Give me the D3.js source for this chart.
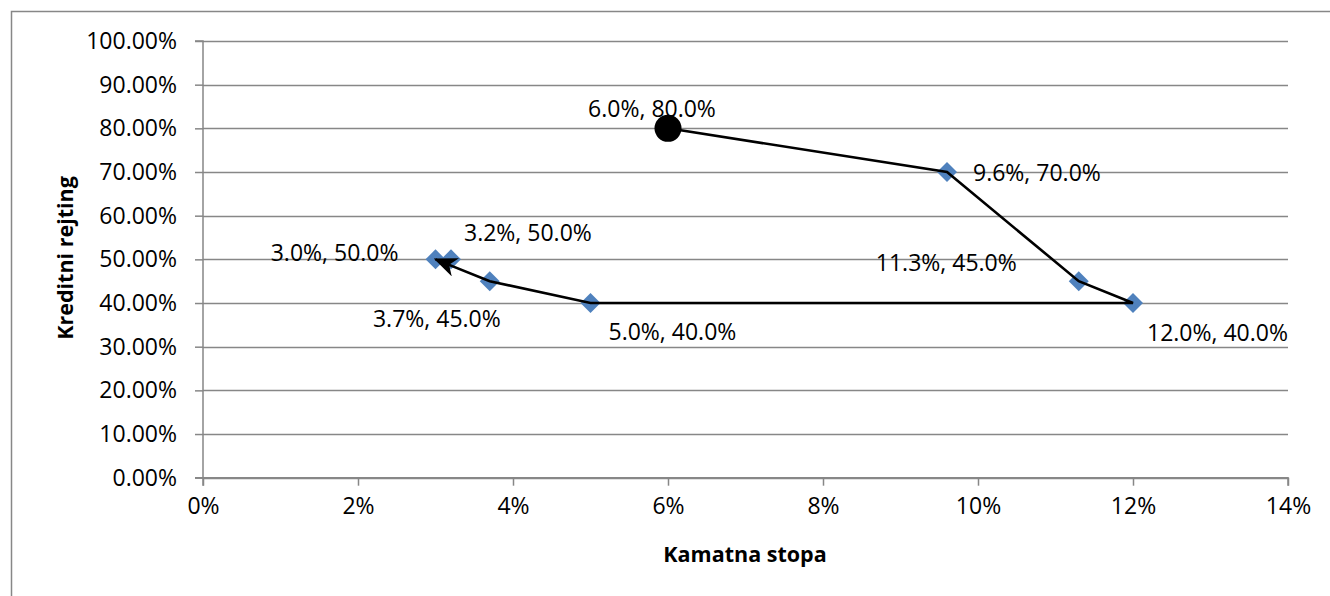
<!DOCTYPE html>
<html><head><meta charset="utf-8">
<script src="https://cdn.jsdelivr.net/npm/d3@7"></script>
<style>body{margin:0;background:#fff}svg{display:block}text{font-family:"Open Sans",sans-serif;fill:#000}</style>
</head><body>
<svg id="c" width="1330" height="596"></svg>
<script>
// Data
const pointX = [6.0, 9.6, 11.3, 12.0, 5.0, 3.7, 3.2, 3.0];       // Kamatna stopa (%)
const pointY = [80.0, 70.0, 45.0, 40.0, 40.0, 45.0, 50.0, 50.0]; // Kreditni rejting (%)
const pathX = [6.0, 9.6, 11.3, 12.0, 5.0, 3.7, 3.0];
const pathY = [80.0, 70.0, 45.0, 40.0, 40.0, 45.0, 50.0];
const xTicks = [0, 2, 4, 6, 8, 10, 12, 14];
const yTicks = [0, 10, 20, 30, 40, 50, 60, 70, 80, 90, 100];
const xTitle = "Kamatna stopa";
const yTitle = "Kreditni rejting";

// Label placement (layout only)
const labelPlace = [
  {anchor:"middle", dx:-16, dy:-20},
  {anchor:"start", dx:26, dy:0},
  {anchor:"end", dx:-62, dy:-19},
  {anchor:"start", dx:14, dy:29},
  {anchor:"start", dx:18, dy:28},
  {anchor:"end", dx:11, dy:37},
  {anchor:"start", dx:13, dy:-27},
  {anchor:"end", dx:-37, dy:-7}
];

const svg = d3.select("#c");
const grey = "#878787";
const L = 203, R = 1288, T = 41, B = 477.7;
const x = d3.scaleLinear().domain([0, 14]).range([L, R]);
const y = d3.scaleLinear().domain([0, 100]).range([B, T]);

// outer border
svg.append("rect").attr("x", 11.5).attr("y", 11.5).attr("width", 1400).attr("height", 700)
  .attr("fill", "none").attr("stroke", grey).attr("stroke-width", 1.5);

// gridlines
svg.append("g").selectAll("line").data(yTicks).join("line")
  .attr("x1", L).attr("x2", R).attr("y1", d => Math.round(y(d)) + 0.5).attr("y2", d => Math.round(y(d)) + 0.5)
  .attr("stroke", grey).attr("stroke-width", 1.3);

// y axis
const yAxis = svg.append("g").attr("transform", `translate(${L},0)`)
  .call(d3.axisLeft(y).tickValues(yTicks).tickSize(8).tickPadding(18).tickFormat(d => d.toFixed(2) + "%"));
// x axis
const xAxis = svg.append("g").attr("transform", `translate(0,${B})`)
  .call(d3.axisBottom(x).tickValues(xTicks).tickSize(8).tickPadding(12).tickFormat(d => d + "%"));
[yAxis, xAxis].forEach(g => {
  g.select(".domain").attr("stroke", grey).attr("stroke-width", 1.5);
  g.selectAll(".tick line").attr("stroke", grey).attr("stroke-width", 1.5);
  g.selectAll(".tick text").attr("font-size", 23).attr("font-family", "Open Sans").attr("fill", "#000");
});
xAxis.select(".domain").attr("d", `M${L},8V0H${R}V8`);
yAxis.select(".domain").attr("d", `M-8,${T}H0V${B}H-8`);

// arrow marker
const defs = svg.append("defs");
defs.append("marker").attr("id", "arr").attr("viewBox", "0 0 12 10").attr("refX", 11).attr("refY", 5)
  .attr("markerWidth", 9).attr("markerHeight", 7.5).attr("markerUnits", "strokeWidth").attr("orient", "auto")
  .append("path").attr("d", "M0,0 L12,5 L0,10 L3.5,5 Z").attr("fill", "#000");

// diamonds (scatter points, excluding start)
const pts = pointX.map((v, i) => ({x: v, y: pointY[i], i}));
svg.append("g").selectAll("path").data(pts.slice(1)).join("path")
  .attr("transform", d => `translate(${x(d.x)},${y(d.y)})`)
  .attr("d", "M0,-10L10,0L0,10L-10,0Z").attr("fill", "#4F81BD");

// line path
const path = pathX.map((v, i) => [x(v), y(pathY[i])]);
svg.append("path").attr("d", d3.line()(path)).attr("fill", "none").attr("stroke", "#000")
  .attr("stroke-width", 2.6).attr("marker-end", "url(#arr)");

// start point
svg.append("circle").attr("cx", x(pointX[0])).attr("cy", y(pointY[0])).attr("r", 13.5).attr("fill", "#000");

// labels
svg.append("g").selectAll("text").data(pts).join("text")
  .attr("x", d => x(d.x) + labelPlace[d.i].dx).attr("y", d => y(d.y) + labelPlace[d.i].dy)
  .attr("text-anchor", d => labelPlace[d.i].anchor).attr("dominant-baseline", "central")
  .attr("font-size", 23).text(d => d.x.toFixed(1) + "%, " + d.y.toFixed(1) + "%");

// titles
svg.append("text").attr("x", 745).attr("y", 553).attr("text-anchor", "middle").attr("dominant-baseline", "central")
  .attr("font-size", 21.5).attr("font-weight", "bold").text(xTitle);
svg.append("text").attr("transform", "translate(64,258) rotate(-90)").attr("text-anchor", "middle")
  .attr("dominant-baseline", "central").attr("font-size", 21.5).attr("font-weight", "bold").text(yTitle);
</script>
</body></html>
